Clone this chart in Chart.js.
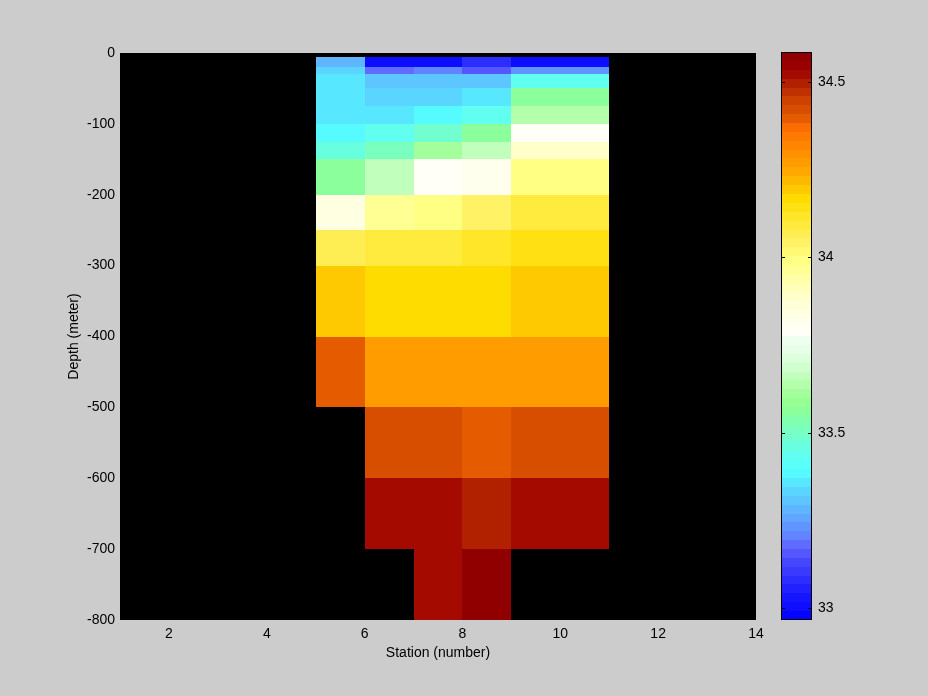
<!DOCTYPE html>
<html>
<head>
<meta charset="utf-8">
<script src="https://cdn.jsdelivr.net/npm/chart.js@4.4.1/dist/chart.umd.min.js"></script>
<style>
  html, body { margin: 0; padding: 0; background: #cccccc; }
  #wrap { position: relative; width: 928px; height: 696px; }
  canvas { position: absolute; left: 0; top: 0; }
</style>
</head>
<body>
<div id="wrap">
  <canvas id="section" width="928" height="696"></canvas>
  <canvas id="colorbar" width="928" height="696"></canvas>
</div>
<script>
// cell edges (pcolor style)
const stationEdges = [5, 6, 7, 8, 9, 11];
const depthEdges = [-5, -20, -30, -50, -75, -100, -125, -150, -200, -250, -300, -400, -500, -600, -700, -800];

// salinity per station column, top to bottom (null = no data)
const stationCol1 = [33.28, 33.34, 33.37, 33.37, 33.37, 33.39, 33.47, 33.56, 33.84, 34.07, 34.19, 34.39, null, null, null];
const stationCol2 = [33.01, 33.17, 33.31, 33.34, 33.37, 33.43, 33.52, 33.66, 33.97, 34.09, 34.165, 34.27, 34.42, 34.52, null];
const stationCol3 = [33.01, 33.20, 33.31, 33.34, 33.39, 33.49, 33.62, 33.78, 33.99, 34.10, 34.165, 34.27, 34.42, 34.52, 34.52];
const stationCol4 = [33.09, 33.15, 33.31, 33.37, 33.43, 33.55, 33.67, 33.82, 34.04, 34.12, 34.18, 34.27, 34.39, 34.50, 34.56];
const stationCol5 = [33.01, 33.22, 33.44, 33.56, 33.64, 33.78, 33.89, 33.99, 34.08, 34.14, 34.19, 34.27, 34.42, 34.52, null];
const columns = [stationCol1, stationCol2, stationCol3, stationCol4, stationCol5];

const xTicks = [2, 4, 6, 8, 10, 12, 14];
const yTicks = [0, -100, -200, -300, -400, -500, -600, -700, -800];
const cTicks = [33, 33.5, 34, 34.5];
const cLimits = [32.966, 34.585];

// colormap stops [t, colour], 64 levels
const nLevels = 64;
const cmapStops = [
  [0.000, '#0000ff'], [0.044, '#1818ff'], [0.074, '#3030ff'], [0.104, '#4848ff'],
  [0.126, '#6060ff'], [0.144, '#6080ff'], [0.167, '#6098ff'], [0.191, '#60b0ff'],
  [0.214, '#5cc8ff'], [0.237, '#58e0ff'], [0.261, '#55ffff'], [0.290, '#60fff0'],
  [0.319, '#70ffd0'], [0.349, '#80ffb0'], [0.377, '#90ff90'], [0.395, '#a0ff98'],
  [0.419, '#b8ffb0'], [0.447, '#d0ffd0'], [0.465, '#e0ffe0'], [0.495, '#f0fff0'],
  [0.507, '#fffff8'], [0.530, '#ffffe8'], [0.565, '#ffffd0'], [0.600, '#ffffa8'],
  [0.635, '#ffff80'], [0.670, '#fff060'], [0.705, '#ffe830'], [0.741, '#ffdd00'],
  [0.770, '#ffbb00'], [0.799, '#ffa000'], [0.828, '#ff8c00'], [0.864, '#ff7000'],
  [0.886, '#e05800'], [0.916, '#cc4000'], [0.946, '#b02000'], [0.968, '#a00000'],
  [1.000, '#8c0000']
];

const hexRgb = (h) => [1, 3, 5].map(i => parseInt(h.substr(i, 2), 16));

const levelColors = [];
for (let k = 0; k < nLevels; k++) {
  const t = (k + 0.5) / nLevels;
  let i = 0;
  while (i < cmapStops.length - 2 && cmapStops[i + 1][0] < t) i++;
  const [t0, c0] = cmapStops[i];
  const [t1, c1] = cmapStops[i + 1];
  const f = Math.min(1, Math.max(0, (t - t0) / (t1 - t0)));
  const a = hexRgb(c0), b = hexRgb(c1);
  const rgb = a.map((v, j) => Math.round(v + (b[j] - v) * f));
  levelColors.push('rgb(' + rgb.join(',') + ')');
}

const colorFor = (v) => {
  let k = Math.floor((v - cLimits[0]) / (cLimits[1] - cLimits[0]) * nLevels);
  k = Math.max(0, Math.min(nLevels - 1, k));
  return levelColors[k];
};

Chart.defaults.font.family = "'Liberation Sans', Arial, sans-serif";
Chart.defaults.font.size = 14;
Chart.defaults.color = '#000';

const sectionCells = {
  id: 'sectionCells',
  beforeDatasetsDraw(chart) {
    const {ctx, chartArea: a, scales: {x, y}} = chart;
    ctx.save();
    ctx.fillStyle = '#000';
    ctx.fillRect(a.left, a.top, a.right - a.left, a.bottom - a.top);
    columns.forEach((col, i) => {
      const x0 = Math.round(x.getPixelForValue(stationEdges[i]));
      const x1 = Math.round(x.getPixelForValue(stationEdges[i + 1]));
      col.forEach((v, j) => {
        if (v === null) return;
        const y0 = Math.round(y.getPixelForValue(depthEdges[j]));
        const y1 = Math.round(y.getPixelForValue(depthEdges[j + 1]));
        ctx.fillStyle = colorFor(v);
        ctx.fillRect(x0, y0, x1 - x0, y1 - y0);
      });
    });
    ctx.restore();
  }
};

const colorbarBands = {
  id: 'colorbarBands',
  beforeDatasetsDraw(chart) {
    const {ctx, chartArea: a, scales: {y}} = chart;
    const step = (cLimits[1] - cLimits[0]) / nLevels;
    ctx.save();
    for (let k = 0; k < nLevels; k++) {
      const y0 = Math.round(y.getPixelForValue(cLimits[0] + k * step));
      const y1 = Math.round(y.getPixelForValue(cLimits[0] + (k + 1) * step));
      ctx.fillStyle = levelColors[k];
      ctx.fillRect(a.left, y1, a.right - a.left, y0 - y1);
    }
    ctx.strokeStyle = '#000';
    ctx.lineWidth = 1;
    ctx.strokeRect(a.left + 0.5, a.top + 0.5, a.right - a.left - 1, a.bottom - a.top - 1);
    ctx.beginPath();
    y.ticks.forEach(t => {
      const py = Math.round(y.getPixelForValue(t.value)) + 0.5;
      ctx.moveTo(a.left, py); ctx.lineTo(a.left + 4, py);
      ctx.moveTo(a.right - 4, py); ctx.lineTo(a.right, py);
    });
    ctx.stroke();
    ctx.restore();
  }
};

const fixedTicks = (list) => (scale) => { scale.ticks = list.map(v => ({value: v})); };

new Chart(document.getElementById('section'), {
  type: 'scatter',
  data: {datasets: []},
  plugins: [sectionCells],
  options: {
    responsive: false,
    animation: false,
    layout: {padding: {left: 0, top: 53, right: 172, bottom: 0}},
    plugins: {legend: {display: false}, tooltip: {enabled: false}},
    scales: {
      x: {
        type: 'linear', min: 1, max: 14,
        afterBuildTicks: fixedTicks(xTicks),
        afterFit: (s) => { s.height = 76; },
        grid: {display: false, drawTicks: false},
        border: {display: false},
        ticks: {padding: 6, maxRotation: 0, callback: (v) => String(v)},
        title: {display: true, text: 'Station (number)', padding: {top: 4, bottom: 34}}
      },
      y: {
        type: 'linear', min: -800, max: 0,
        afterBuildTicks: fixedTicks(yTicks),
        afterFit: (s) => { s.width = 120; },
        grid: {display: false, drawTicks: false},
        border: {display: false},
        ticks: {padding: 5, callback: (v) => String(v)},
        title: {display: true, text: 'Depth (meter)', padding: {top: 66, bottom: 0}}
      }
    }
  }
});

new Chart(document.getElementById('colorbar'), {
  type: 'scatter',
  data: {datasets: []},
  plugins: [colorbarBands],
  options: {
    responsive: false,
    animation: false,
    layout: {padding: {left: 781, top: 52, right: 0, bottom: 76}},
    plugins: {legend: {display: false}, tooltip: {enabled: false}},
    scales: {
      x: {type: 'linear', min: 0, max: 1, display: false},
      y: {
        type: 'linear', position: 'right', min: cLimits[0], max: cLimits[1],
        afterBuildTicks: fixedTicks(cTicks),
        afterFit: (s) => { s.width = 116; },
        grid: {display: false, drawTicks: false},
        border: {display: false},
        ticks: {padding: 6, callback: (v) => String(v)}
      }
    }
  }
});
</script>
</body>
</html>
